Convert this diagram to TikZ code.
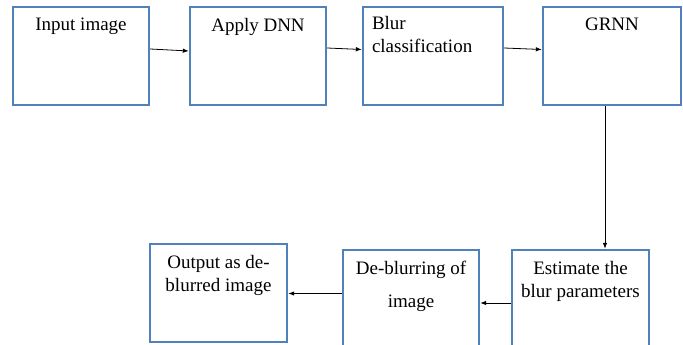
\documentclass[tikz,border=0pt]{standalone}
\usepackage{fontspec}
\setmainfont{Liberation Serif}
\usetikzlibrary{arrows.meta, positioning}
\definecolor{boxblue}{RGB}{79,129,189}

\begin{document}
\begin{tikzpicture}[
  x=1pt, y=-1pt,
  box/.style={rectangle, draw=boxblue, line width=2.4pt, inner sep=0pt, minimum height=98pt},
  lbl/.style={anchor=north, inner sep=0pt, align=center, font=\rmfamily\fontsize{19}{23}\selectfont},
  arr/.style={draw, line width=0.8pt, -{Latex[length=6pt,width=4.5pt]}}
]
\useasboundingbox (0,0) rectangle (683,345);

% top row
\node[box, minimum width=136pt] (input) at (81,56) {};
\node[box, minimum width=136pt] (dnn) at (258,56) {};
\node[box, minimum width=140pt] (blurcls) at (433,56) {};
\node[box, minimum width=138pt] (grnn) at (612,56) {};

% bottom row
\node[box, minimum width=137pt, minimum height=100pt] (estim) at (580.5,300) {};
\node[box, minimum width=136pt, minimum height=100pt] (deblur) at (411,300) {};
\node[box, minimum width=137pt] (output) at (218.5,293) {};

% labels
\node[lbl] (inputtxt) at ([yshift=-12pt]input.north) {Input image};
\node[lbl] (dnntxt) at ([yshift=-12pt]dnn.north) {Apply DNN};
\node[lbl, anchor=north west, align=left] (blurtxt) at ([xshift=10pt, yshift=-10pt]blurcls.north west) {Blur\\classification};
\node[lbl] (grnntxt) at ([yshift=-12pt]grnn.north) {GRNN};
\node[lbl] (estimtxt) at ([yshift=-12pt]estim.north) {Estimate the\\blur parameters};
\node[lbl] (deblurtxt) at ([yshift=-12pt]deblur.north) {De-blurring of\\[10pt]image};
\node[lbl] (outputtxt) at ([yshift=-12pt]output.north) {Output as de-\\blurred image};

% flow
\draw[arr] ([yshift=7pt]input.east) -- ([yshift=5pt]dnn.west);
\draw[arr] ([yshift=8pt]dnn.east) -- ([yshift=6.5pt]blurcls.west);
\draw[arr] ([yshift=8pt]blurcls.east) -- ([yshift=6.5pt]grnn.west);
\draw[arr] ([xshift=-7pt]grnn.south) -- ([xshift=-7pt]grnn.south |- estim.north);
\draw[arr] ([yshift=-3pt]estim.west) -- ([yshift=-3pt]deblur.east);
\draw[arr] ([yshift=6.5pt]deblur.west) -- ([yshift=6.5pt]deblur.west -| output.east);
\end{tikzpicture}
\end{document}
